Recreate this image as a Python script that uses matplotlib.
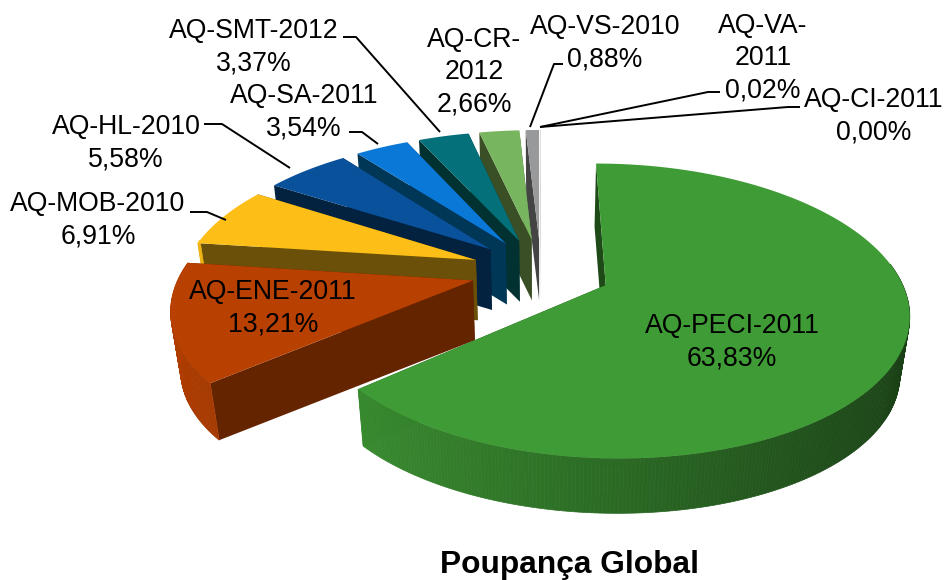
import numpy as np
import matplotlib
matplotlib.use("Agg")
import matplotlib.pyplot as plt
from matplotlib.patches import Polygon
from matplotlib.colors import to_rgb

plt.rcParams['font.family'] = ['Liberation Sans', 'DejaVu Sans']

# ---- data ----
categories = ["AQ-PECI-2011", "AQ-ENE-2011", "AQ-MOB-2010", "AQ-HL-2010", "AQ-SA-2011",
              "AQ-SMT-2012", "AQ-CR-2012", "AQ-VS-2010", "AQ-VA-2011", "AQ-CI-2011"]
values = [63.83, 13.21, 6.91, 5.58, 3.54, 3.37, 2.66, 0.88, 0.02, 0.00]
colors = ["#3f9b35", "#b84000", "#fdbf17", "#0a519b", "#0a78d7",
          "#04717a", "#77b55e", "#98999b", "#98999b", "#98999b"]
face_colors = ["#1e4a18", "#652400", "#6a5008", "#02223f", "#003656",
               "#023131", "#3a4f26", "#444444", "#444444", "#444444"]
title = "Poupança Global"

# ---- layout ----
label_names = ["AQ-PECI-2011", "AQ-ENE-2011", "AQ-MOB-2010", "AQ-HL-2010", "AQ-SA-2011",
               "AQ-SMT-2012", "AQ-CR-\n2012", "AQ-VS-2010", "AQ-VA-\n2011", "AQ-CI-2011"]
label_pos = [(732, 342), (273, 308), (98, 220), (126, 143), (304, 112),
             (254, 47), (474, 72), (605, 43), (763, 58), (874, 116)]
leaders = [None, None,
           [(190, 212), (207, 212), (226, 220)],
           [(204, 124), (222, 124), (290, 168)],
           [(349, 132), (362, 132), (378, 144)],
           [(343, 37), (356, 37), (440, 132)],
           None,
           [(563, 64), (554, 64), (530, 127)],
           [(720, 92), (708, 92), (540, 127)],
           [(800, 107), (788, 107), (540, 127)]]
CX, CY, RX, AY, B, EXPL, DEPTH, SHRINK = 541, 271, 292, 138, -0.172, 0.24, 60, 0.028
FS = 19.2


def project(X, Y, z):
    w = (1 + B * Y) * (1 + SHRINK * z)
    return CX + RX * X / w, CY + AY * Y / w + DEPTH * z


def shade(col, f):
    return tuple(min(1, c * f) for c in to_rgb(col))


fig = plt.figure(figsize=(9.45, 5.8), dpi=100)
ax = fig.add_axes([0, 0, 1, 1])
ax.set_xlim(0, 945)
ax.set_ylim(580, 0)
ax.axis("off")

total = sum(values)
cum = np.cumsum([0] + values) / total * 2 * np.pi
order = list(range(len(values)))[::-1]

for i in order:
    a0, a1 = cum[i], cum[i + 1]
    mid = (a0 + a1) / 2
    ox, oy = EXPL * np.sin(mid), -EXPL * np.cos(mid)
    th = np.linspace(a0, a1, max(3, int((a1 - a0) * 90)))
    ux, uy = ox + np.sin(th), oy - np.cos(th)
    col = colors[i]
    # radial faces
    for t in (a1, a0):
        qx, qy = ox + np.sin(t), oy - np.cos(t)
        pts = [project(ox, oy, 0), project(qx, qy, 0), project(qx, qy, 1), project(ox, oy, 1)]
        ax.add_patch(Polygon(pts, closed=True, fc=face_colors[i], ec="none", zorder=1))
    # rim with lighting that follows the outward normal
    for k in range(len(th) - 1):
        if -np.cos((th[k] + th[k + 1]) / 2) < -0.15:
            continue
        pts = [project(ux[k], uy[k], 0), project(ux[k + 1], uy[k + 1], 0),
               project(ux[k + 1], uy[k + 1], 1), project(ux[k], uy[k], 1)]
        f = 0.68 - 0.28 * np.sin((th[k] + th[k + 1]) / 2)
        c = shade(col, f)
        ax.add_patch(Polygon(pts, closed=True, fc=c, ec=c, lw=0.5, zorder=1))
    # top
    top = [project(ox, oy, 0)] + [project(x, y, 0) for x, y in zip(ux, uy)]
    ax.add_patch(Polygon(top, closed=True, fc=col, ec="none", zorder=1))

for name, v, p, ld in zip(label_names, values, label_pos, leaders):
    ax.text(p[0], p[1], f"{name}\n{v:.2f}%".replace(".", ","), ha="center", va="center",
            fontsize=FS, color="black", linespacing=1.32, zorder=5)
    if ld:
        xs, ys = zip(*ld)
        ax.plot(xs, ys, color="black", lw=1.4, zorder=4, solid_capstyle="butt")

ax.text(569, 565, title, ha="center", va="center", fontsize=22.8, fontweight="bold", zorder=5)

fig.savefig("out.png", dpi=100)
